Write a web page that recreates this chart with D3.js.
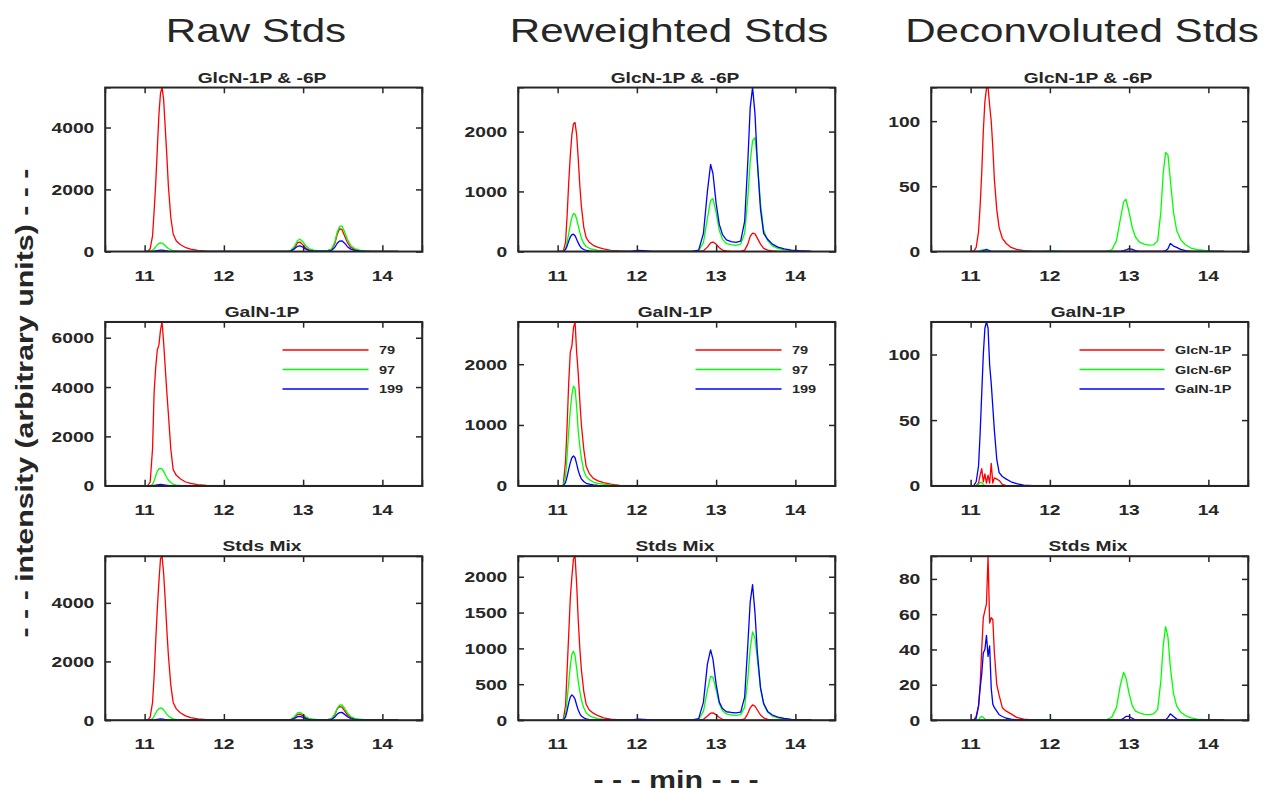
<!DOCTYPE html>
<html>
<head>
<meta charset="utf-8">
<script src="https://cdn.jsdelivr.net/npm/d3@7"></script>
<style>
  body { margin: 0; background: #fff; }
  svg text { font-family: "Liberation Sans", Arial, sans-serif; fill: #262626; }
</style>
</head>
<body>
<svg id="fig" width="1264" height="793"></svg>
<script>
// retention time grid (min), shared by every trace
const minutes = [11.00,11.04,11.07,11.10,11.12,11.14,11.16,11.18,11.20,11.22,11.24,11.26,11.28,11.30,11.33,11.36,11.40,11.45,11.51,11.58,11.67,11.78,11.92,12.02,12.08,12.20,
  12.70,12.78,12.84,12.89,12.93,12.96,13.00,13.04,13.08,13.13,13.19,13.25,13.31,13.36,13.40,13.43,13.46,13.49,13.52,13.56,13.60,13.65,13.71,13.78,13.86,13.95,14.05,14.20]

// Raw Stds - GlcN-1P & -6P
const rawGlc79  = [0,0,80,500,1300,2200,3300,4400,5100,5300,4900,4000,3100,2100,1100,560,330,220,130,70,30,8,0,0,0,0,
  0,0,0,100,280,300,200,90,40,20,15,15,20,60,250,550,730,700,520,280,130,60,25,10,0,0,0,0]
const rawGlc97  = [0,0,0,30,80,150,210,250,270,265,230,180,130,90,50,25,10,0,0,0,0,0,0,0,0,0,
  0,0,20,160,350,390,300,160,80,40,25,20,25,80,300,620,800,820,650,380,190,90,40,15,5,0,0,0]
const rawGlc199 = [0,0,0,0,5,12,20,28,35,35,30,20,12,5,0,0,0,0,0,0,0,0,0,0,0,0,
  0,0,5,80,160,175,130,60,25,10,5,5,8,30,130,260,330,340,270,150,70,30,10,3,0,0,0,0]
// Raw Stds - GalN-1P
const rawGal79  = [0,0,150,1500,3800,4800,5500,5700,6300,6650,5800,4800,3800,2900,1500,650,420,280,160,90,40,10,0,0,0,0,
  0,0,0,0,0,0,0,0,0,0,0,0,0,0,0,0,0,0,0,0,0,0,0,0,0,0,0,0]
const rawGal97  = [0,0,0,60,200,400,580,680,700,680,580,450,330,230,130,60,25,8,0,0,0,0,0,0,0,0,
  0,0,0,0,0,0,0,0,0,0,0,0,0,0,0,0,0,0,0,0,0,0,0,0,0,0,0,0]
const rawGal199 = [0,0,0,0,10,20,35,45,50,45,35,25,15,8,3,0,0,0,0,0,0,0,0,0,0,0,
  0,0,0,0,0,0,0,0,0,0,0,0,0,0,0,0,0,0,0,0,0,0,0,0,0,0,0,0]
// Raw Stds - Stds Mix
const rawMix79  = [0,0,100,600,1500,2700,3800,4700,5500,5600,5000,4100,3100,2200,1200,600,380,250,150,80,35,10,0,0,0,0,
  0,0,0,80,190,200,140,60,25,10,5,5,10,40,180,380,460,440,330,170,80,35,15,5,0,0,0,0]
const rawMix97  = [0,0,0,50,130,240,330,390,410,400,340,270,200,140,80,40,15,5,0,0,0,0,0,0,0,0,
  0,0,15,110,240,260,190,100,50,25,15,12,15,50,200,400,510,520,410,240,120,55,25,10,3,0,0,0]
const rawMix199 = [0,0,0,0,5,10,20,28,35,30,25,15,8,3,0,0,0,0,0,0,0,0,0,0,0,0,
  0,0,5,50,115,125,90,40,15,5,3,3,5,20,100,200,255,260,200,110,50,20,5,0,0,0,0,0]

// Reweighted Stds
const rwGlc79  = [0,0,0,150,600,1150,1600,1950,2130,2150,1950,1550,1100,750,400,230,150,100,65,40,15,5,0,0,0,0,
  0,0,10,70,140,155,120,60,20,5,0,0,0,20,120,250,305,290,220,120,50,20,5,0,0,0,0,0]
const rwGlc97  = [0,0,0,40,150,300,450,570,630,620,540,430,320,220,130,80,50,30,15,8,3,0,0,0,0,0,
  0,10,150,550,850,880,650,350,200,130,110,100,120,300,900,1500,1850,1900,1500,800,350,180,90,50,25,10,3,0]
const rwGlc199 = [0,0,0,30,90,170,240,280,285,260,200,140,90,55,30,15,5,0,0,0,0,0,0,15,12,0,
  0,20,300,1000,1450,1300,800,450,280,190,160,150,170,500,1500,2400,2740,2300,1500,700,300,200,120,70,40,20,10,0]
const rwGal79  = [0,0,0,400,1000,1700,2200,2300,2600,2700,2200,1850,1400,1000,600,320,200,120,80,50,25,5,0,0,0,0,
  0,0,0,0,0,0,0,0,0,0,0,0,0,0,0,0,0,0,0,0,0,0,0,0,0,0,0,0]
const rwGal97  = [0,0,0,150,500,900,1250,1500,1640,1600,1300,900,650,450,250,150,100,60,40,25,10,3,0,0,0,0,
  0,0,0,0,0,0,0,0,0,0,0,0,0,0,0,0,0,0,0,0,0,0,0,0,0,0,0,0]
const rwGal199 = [0,0,0,50,150,270,380,460,490,460,360,250,170,110,70,40,25,12,5,0,0,0,0,0,0,0,
  0,0,0,0,0,0,0,0,0,0,0,0,0,0,0,0,0,0,0,0,0,0,0,0,0,0,0,0]
const rwMix79  = [0,0,0,200,700,1200,1700,2000,2250,2290,1900,1400,1000,700,400,220,140,95,60,30,12,3,0,0,0,0,
  0,0,10,55,95,100,75,35,10,0,0,0,0,15,90,170,210,195,140,70,30,10,3,0,0,0,0,0]
const rwMix97  = [0,0,0,80,280,520,760,920,960,900,720,540,400,280,170,100,60,35,18,8,3,0,0,0,0,0,
  0,10,120,420,610,600,420,230,130,85,70,65,75,180,580,1000,1230,1150,850,450,220,110,55,30,15,6,2,0]
const rwMix199 = [0,0,0,40,130,240,320,350,330,290,210,140,90,55,30,15,6,0,0,0,0,0,0,12,8,0,
  0,20,250,780,980,850,500,250,160,115,105,100,110,320,1050,1650,1890,1500,950,450,230,120,70,40,22,10,4,0]

// Deconvoluted Stds
const dcGlcG1P = [0,0,3,15,35,60,92,115,125,126,112,100,80,55,32,18,10,6,3,1.5,0.5,0,0,0,0,0,
  0,0,0,0,0,0,0,0,0,0,0,0,0,0,0,0,0,0,0,0,0,0,0,0,0,0,0,0]
const dcGlcG6P = [0,0,0,0,0.5,1,1,1,0.5,0,0,0,0,0,0,0,0,0,0,0,0,0,0,0.5,0.3,0,
  0,1,8,25,38,40,30,18,11,7,5.5,4.8,5,8,30,60,76,74,55,30,16,9,5,2.5,1.2,0.6,0.2,0]
const dcGlcGal = [0,0,0,0,0,0,0.5,1,1.5,1,0.5,0,0,0,0,0,0,0,0,0,0,0,0,0,0,0,
  0,0,0,0,0.5,1,2,1.5,0.5,0,0,0,0,0,0,0,0.5,2,6,4,3,1.5,0.5,0,0,0,0,0]
const dcGalG1P = [0,0,0,2,8,13,3,9,2,8,2,17,2,6,5,4,1,0,0,0,0,0,0,0,0,0,
  0,0,0,0,0,0,0,0,0,0,0,0,0,0,0,0,0,0,0,0,0,0,0,0,0,0,0,0]
const dcGalG6P = [0,0,0,1,2.5,2.5,1,0,0,0,0,0,0,0,0,0,0,0,0,0,0,0,0,0,0,0,
  0,0,0,0,0,0,0,0,0,0,0,0,0,0,0,0,0,0,0,0,0,0,0,0,0,0,0,0]
const dcGalGal = [0,0,3,15,40,70,100,120,125,120,92,78,60,42,20,10,7,5,3,1.5,0.5,0,0,0,0,0,
  0,0,0,0,0,0,0,0,0,0,0,0,0,0,0,0,0,0,0,0,0,0,0,0,0,0,0,0]
const dcMixG1P = [0,0,2,8,20,40,58,62,66,93,55,58,57,38,20,14,7,5,3.5,1.5,0.5,0,0,0,0,0,
  0,0,0,0,0,0,0,0,0,0,0,0,0,0,0,0,0,0,0,0,0,0,0,0,0,0,0,0]
const dcMixG6P = [0,0,0,0,1.5,2,1.5,0.5,0,0,0,0,0,0,0,0,0,0,0,0,0,0,0,0.3,0.2,0,
  0,1.5,7,20,27,24,15,8,5,4,3.2,3,3.5,6,22,42,53,47,30,15,8,4.5,2.5,1.2,0.5,0.2,0,0]
const dcMixGal = [0,0,1,8,18,26,38,40,48,36,42,18,9,7,5,3,2,1,0.5,0,0,0,0,0,0,0,
  0,0,0,0,1,2,2,1,0,0,0,0,0,0,0,0,0,1.5,3.5,2,0.5,0,0,0,0,0,0,0]

const columnTitles = ["Raw Stds", "Reweighted Stds", "Deconvoluted Stds"]
const rowTitles = ["GlcN-1P & -6P", "GalN-1P", "Stds Mix"]
const xTicks = [11, 12, 13, 14]
const yTicks = [
  [[0, 2000, 4000], [0, 1000, 2000], [0, 50, 100]],
  [[0, 2000, 4000, 6000], [0, 1000, 2000], [0, 50, 100]],
  [[0, 2000, 4000], [0, 500, 1000, 1500, 2000], [0, 20, 40, 60, 80]]
]
const ionLabels = ["79", "97", "199"]
const compoundLabels = ["GlcN-1P", "GlcN-6P", "GalN-1P"]
const traceColors = ["#ff0000", "#00ff00", "#0000ff"]

const traces = [
  [[rawGlc79, rawGlc97, rawGlc199], [rwGlc79, rwGlc97, rwGlc199], [dcGlcG1P, dcGlcG6P, dcGlcGal]],
  [[rawGal79, rawGal97, rawGal199], [rwGal79, rwGal97, rwGal199], [dcGalG1P, dcGalG6P, dcGalGal]],
  [[rawMix79, rawMix97, rawMix199], [rwMix79, rwMix97, rwMix199], [dcMixG1P, dcMixG6P, dcMixGal]]
]

// the source figure's text is wider than Arial at the same height
const SX = 1.24
const ink = "#262626"

const svg = d3.select("#fig")

function label(g, x, y, str, size, weight, anchor, rot) {
  var r = rot ? " rotate(" + rot + ")" : ""
  return g.append("text")
    .attr("transform", "translate(" + x + "," + y + ")" + r + " scale(" + SX + ",1)")
    .attr("font-size", size)
    .attr("font-weight", weight)
    .attr("text-anchor", anchor)
    .text(str)
}

var axW = 317, axH = 164
var lefts = [105, 518, 931]
var tops = [87.3, 321.7, 556]

columnTitles.forEach(function(t, c) {
  label(svg, lefts[c] + axW / 2 - 7.5, 42.3, t, 34, "normal", "middle")
})

traces.forEach(function(row, r) {
  row.forEach(function(series, c) {
    var g = svg.append("g").attr("transform", "translate(" + lefts[c] + "," + tops[r] + ")")

    var x = d3.scaleLinear().domain([10.5, 14.5]).range([0, axW])
    var ymax = d3.max(series, s => d3.max(s))
    var y = d3.scaleLinear().domain([0, ymax]).range([axH, 0])

    var line = d3.line()
      .x((d, i) => x(minutes[i]))
      .y(d => y(d))

    g.selectAll(".trace")
      .data(series)
      .enter().append("path")
        .attr("class", "trace")
        .attr("fill", "none")
        .attr("stroke", (d, i) => traceColors[i])
        .attr("stroke-width", 1.3)
        .attr("stroke-linejoin", "round")
        .attr("d", line)

    // box with inward ticks on all sides
    var ticks = yTicks[r][c]
    g.append("g").call(d3.axisBottom(x).tickValues(xTicks).tickSize(-6).tickFormat(""))
      .attr("transform", "translate(0," + axH + ")")
    g.append("g").call(d3.axisTop(x).tickValues(xTicks).tickSize(-6).tickFormat(""))
    g.append("g").call(d3.axisLeft(y).tickValues(ticks).tickSize(-6).tickFormat(""))
    g.append("g").call(d3.axisRight(y).tickValues(ticks).tickSize(-6).tickFormat(""))
      .attr("transform", "translate(" + axW + ",0)")
    g.selectAll(".domain, .tick line").attr("stroke", ink).attr("stroke-width", 1.5)
    g.append("rect").attr("width", axW).attr("height", axH)
      .attr("fill", "none").attr("stroke", ink).attr("stroke-width", 1.5)

    xTicks.forEach(function(t) {
      label(g, x(t), axH + 29.3, t, 15.5, "bold", "middle")
    })
    ticks.forEach(function(t) {
      label(g, -10.7, y(t) + 5.5, t, 15.5, "bold", "end")
    })

    label(g, axW / 2 - 1.5, -4.6, rowTitles[r], 15.5, "bold", "middle")

    if (r == 1) {
      var names = (c == 2) ? compoundLabels : ionLabels
      var x0 = (c == 2) ? 148.5 : 177.5
      var len = (c == 2) ? 85 : 86
      names.forEach(function(n, i) {
        var ly = 28.3 + i * 19.5
        g.append("line")
          .attr("x1", x0).attr("x2", x0 + len)
          .attr("y1", ly).attr("y2", ly)
          .attr("stroke", traceColors[i]).attr("stroke-width", 1.5)
        label(g, x0 + len + 10.5, ly + 4.2, n, 11.7, "bold", "start")
      })
    }
  })
})

label(svg, 33, 403, "- - - intensity (arbitrary units) - - -", 24.5, "bold", "middle", -90)
label(svg, 676, 788, "- - - min - - -", 24.5, "bold", "middle")
</script>
</body>
</html>
